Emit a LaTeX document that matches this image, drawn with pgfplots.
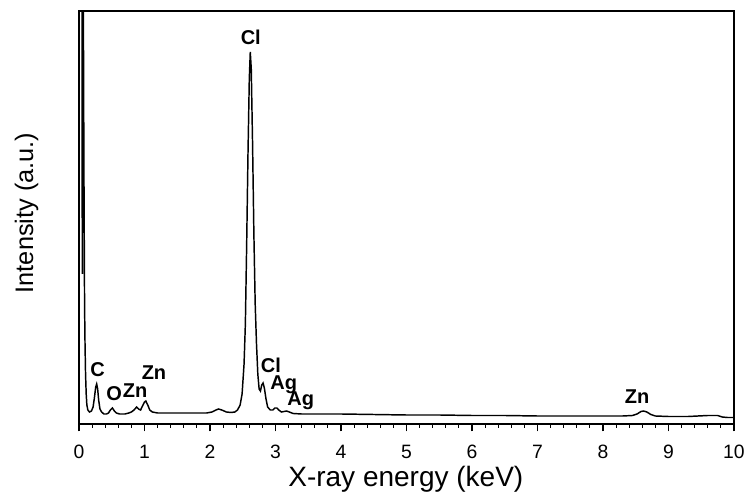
\documentclass[border=0pt]{standalone}
\usepackage{fontspec}
\setmainfont{Liberation Sans}
\usepackage{pgfplots}
\pgfplotsset{compat=1.18}
\pgfplotstableread{
x y
0.000 700
0.044 700
0.050 150
0.056 700
0.066 430
0.075 260
0.085 120
0.092 80
0.100 50
0.110 30
0.120 19
0.135 14
0.160 12
0.190 13
0.215 17
0.235 26
0.255 37
0.270 40
0.285 35
0.300 24
0.320 15
0.345 12
0.38 10
0.42 10
0.45 11
0.48 14
0.51 16
0.54 13
0.57 11
0.62 10
0.70 10
0.76 11
0.80 12
0.84 14
0.88 17
0.91 15
0.94 14
0.97 18
1.00 22
1.02 23
1.05 19
1.08 14
1.12 12
1.2 11
1.4 11
1.6 11
1.8 11
1.95 11
2.03 12
2.09 14
2.13 15
2.18 14
2.25 12
2.32 11.5
2.38 12
2.42 14
2.46 19
2.49 30
2.52 60
2.54 100
2.56 180
2.58 270
2.60 345
2.615 372
2.63 355
2.65 280
2.67 190
2.69 120
2.71 80
2.73 50
2.75 35
2.77 33
2.79 39
2.81 41
2.83 36
2.855 25
2.88 17
2.92 14
2.96 14
2.99 16
3.02 16
3.05 14
3.09 12
3.13 12.5
3.17 13
3.21 12
3.27 10.5
3.4 10
3.6 10
4.0 10
4.5 9.5
5.0 9
5.5 9
6.0 8.5
6.5 8.5
7.0 8
7.5 8
8.0 8
8.3 8
8.45 8.5
8.52 10
8.58 12.5
8.62 13
8.67 12
8.73 9.5
8.8 8
9.0 7.5
9.3 7.5
9.45 8
9.6 8.5
9.75 8.5
9.82 7
9.9 6.5
10.0 6.5
}\spectrum
\begin{document}
\begin{tikzpicture}
\path[use as bounding box] (-59.25pt,-51pt) rectangle (498.75pt,318pt);
\begin{axis}[
  at={(0pt,0pt)}, anchor=south west,
  scale only axis, width=491.25pt, height=309.75pt,
  xmin=0, xmax=10, ymin=0, ymax=413,
  xtick={0,1,...,10}, minor x tick num=4, ytick=\empty,
  tick align=outside, xtick pos=bottom,
  major tick length=5.5pt, minor tick length=3pt,
  every tick/.style={black, line width=0.8pt},
  axis line style={line width=1pt},
  /pgf/number format/assume math mode=true,
  xticklabel style={font=\fontsize{14.5}{15}\selectfont, anchor=base, yshift=-20.25pt},
  xlabel={X-ray energy (keV)},
  xlabel style={font=\fontsize{21}{23}\selectfont, at={(axis description cs:0.499,-0.152)}, anchor=base},
  ylabel={Intensity (a.u.)},
  ylabel style={font=\fontsize{19}{21}\selectfont, at={(axis description cs:-0.0702,0.511)}, anchor=base},
]
\addplot[black, line width=1.1pt] table[x=x,y=y] {\spectrum};
\begin{scope}[every node/.style={font=\fontsize{15}{17}\selectfont\bfseries, anchor=base, inner sep=0pt}]
\node at (axis cs:2.623,379) {Cl};
\node at (axis cs:0.283,47.3) {C};
\node at (axis cs:0.535,23) {O};
\node at (axis cs:0.855,26.7) {Zn};
\node at (axis cs:1.145,44) {Zn};
\node at (axis cs:2.93,51.7) {Cl};
\node at (axis cs:3.125,34.7) {Ag};
\node at (axis cs:3.386,18) {Ag};
\node at (axis cs:8.52,20.7) {Zn};
\end{scope}
\end{axis}
\end{tikzpicture}
\end{document}
